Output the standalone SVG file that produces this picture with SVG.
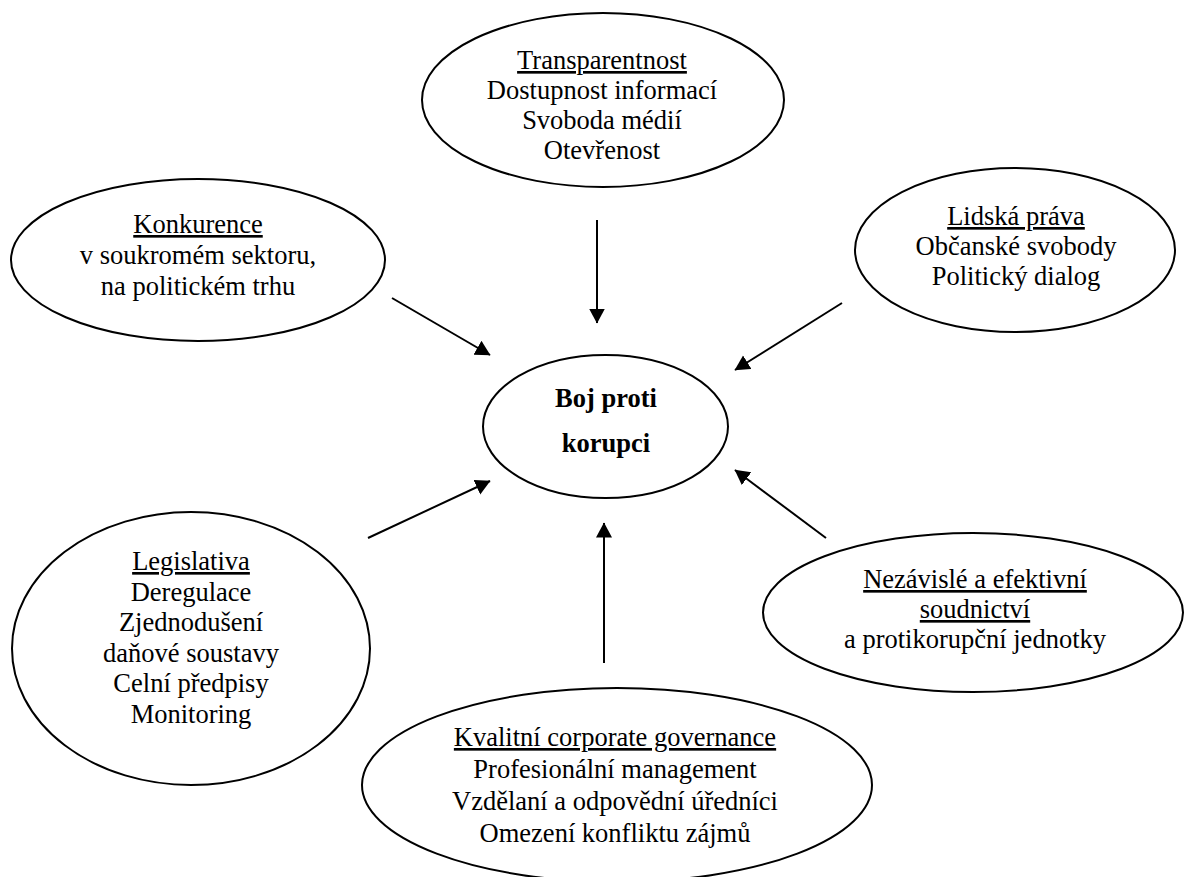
<svg xmlns="http://www.w3.org/2000/svg" width="1184" height="877" viewBox="0 0 1184 877">
<style>
.n ellipse{fill:#fff;stroke:#000;stroke-width:2}
text{font-family:"Liberation Serif","Times New Roman",serif;font-size:26.5px;fill:#000;text-anchor:middle}
.u{text-decoration:underline}
.b{font-weight:bold}
.c line{stroke:#000;stroke-width:2;marker-end:url(#ah)}
</style>
<defs>
<marker id="ah" markerUnits="userSpaceOnUse" markerWidth="16" markerHeight="17" refX="14.5" refY="8" orient="auto">
<path d="M0,0 L15,8 L0,16 z" fill="#000"/>
</marker>
</defs>
<rect width="1184" height="877" fill="#fff"/>
<g id="transparentnost" class="n">
<ellipse cx="603" cy="100" rx="181" ry="87"/>
<text x="602" y="69" class="u">Transparentnost</text>
<text x="602" y="99">Dostupnost informací</text>
<text x="602" y="129">Svoboda médií</text>
<text x="602" y="159">Otevřenost</text>
</g>
<g id="konkurence" class="n">
<ellipse cx="198" cy="260" rx="187" ry="81"/>
<text x="198" y="233" class="u">Konkurence</text>
<text x="198" y="264">v soukromém sektoru,</text>
<text x="198" y="295">na politickém trhu</text>
</g>
<g id="lidska-prava" class="n">
<ellipse cx="1015" cy="250" rx="160" ry="82"/>
<text x="1016" y="225" class="u">Lidská práva</text>
<text x="1016" y="255">Občanské svobody</text>
<text x="1016" y="285">Politický dialog</text>
</g>
<g id="boj" class="n">
<ellipse cx="605.5" cy="426.5" rx="122.5" ry="71.5"/>
<text x="606" y="407" class="b">Boj proti</text>
<text x="606" y="452" class="b">korupci</text>
</g>
<g id="legislativa" class="n">
<ellipse cx="191" cy="648.5" rx="179" ry="136.5"/>
<text x="191" y="570" class="u">Legislativa</text>
<text x="191" y="600.6">Deregulace</text>
<text x="191" y="631.2">Zjednodušení</text>
<text x="191" y="661.8">daňové soustavy</text>
<text x="191" y="692.4">Celní předpisy</text>
<text x="191" y="723">Monitoring</text>
</g>
<g id="soudnictvi" class="n">
<ellipse cx="973" cy="612.5" rx="210" ry="79.5"/>
<text x="975" y="588" class="u">Nezávislé a efektivní</text>
<text x="975" y="618" class="u">soudnictví</text>
<text x="975" y="648">a protikorupční jednotky</text>
</g>
<g id="governance" class="n">
<ellipse cx="617" cy="785" rx="255" ry="97"/>
<text x="615" y="746" class="u">Kvalitní corporate governance</text>
<text x="615" y="778">Profesionální management</text>
<text x="615" y="810">Vzdělaní a odpovědní úředníci</text>
<text x="615" y="842">Omezení konfliktu zájmů</text>
</g>
<g id="connectors" class="c">
<line x1="597" y1="220" x2="597" y2="323"/>
<line x1="392" y1="298" x2="490" y2="355"/>
<line x1="842" y1="303" x2="735" y2="370"/>
<line x1="368" y1="538" x2="490" y2="481"/>
<line x1="826" y1="538" x2="735" y2="470"/>
<line x1="604" y1="663" x2="604" y2="523"/>
</g>
</svg>
